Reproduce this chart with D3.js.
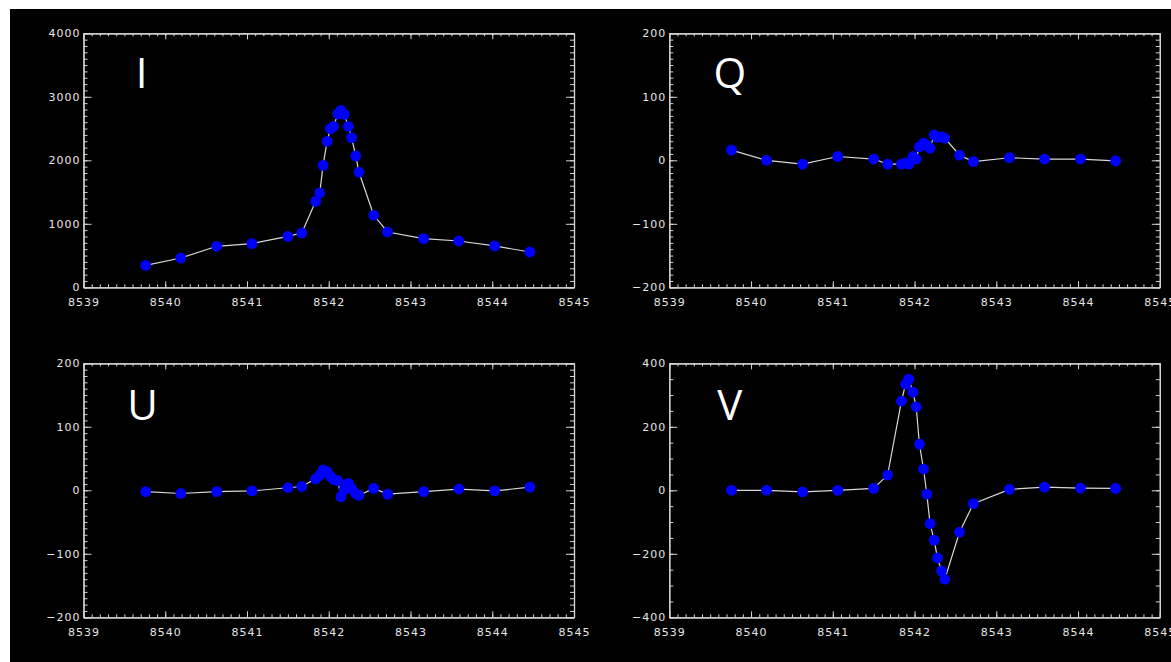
<!DOCTYPE html>
<html>
<head>
<meta charset="utf-8">
<script src="https://cdn.jsdelivr.net/npm/d3@7"></script>
<style>
  html, body { margin: 0; padding: 0; background: #fff; }
  svg { display: block; }
  .tick text { font-family: "DejaVu Sans", sans-serif; font-size: 11px; fill: #e6e6e6; letter-spacing: 1px; }
  .tick line, .domain { stroke: #d4d4d4; }
</style>
</head>
<body>
<script>
// wavelength samples (Angstrom), shared by the four Stokes panels
var wavelength = [8539.76, 8540.19, 8540.63, 8541.06, 8541.50, 8541.67,
  8541.84, 8541.89, 8541.93, 8541.98, 8542.02, 8542.06, 8542.11, 8542.15, 8542.19, 8542.24, 8542.28, 8542.33, 8542.37,
  8542.55, 8542.72, 8543.16, 8543.59, 8544.03, 8544.46];

var stokesI = [346, 461, 646, 688, 803, 855,
  1354, 1485, 1921, 2299, 2499, 2535, 2729, 2787, 2724, 2535, 2357, 2068, 1811,
  1134, 871, 767, 729, 651, 556];
var stokesQ = [16, 0, -6, 6, 2, -6,
  -6, -4, -6, 6, 2, 21, 27, 24, 19, 40, 36, 37, 35,
  8, -2, 4, 2, 2, -1];
var stokesU = [-2, -5, -2, -1, 4, 6,
  18, 24, 32, 29, 22, 17, 15, -10, 1, 11, 3, -5, -8,
  3, -6, -2, 2, -1, 5];
var stokesV = [0, 0, -5, 0, 6, 48,
  281, 334, 350, 309, 263, 145, 67, -12, -105, -157, -213, -254, -280,
  -132, -42, 3, 10, 7, 6];

var panelNames = ["I", "Q", "U", "V"];
var panelSeries = [stokesI, stokesQ, stokesU, stokesV];
var yDomains = [[0, 4000], [-200, 200], [-200, 200], [-400, 400]];
var yMajorTicks = [[0, 1000, 2000, 3000, 4000], [-200, -100, 0, 100, 200], [-200, -100, 0, 100, 200], [-400, -200, 0, 200, 400]];
var yMinorStep = [100, 10, 10, 50];
var xDomain = [8539, 8545];
var xMajorTicks = [8539, 8540, 8541, 8542, 8543, 8544, 8545];

var W = 1171, H = 662;
var pw = 490.5, ph = 254;
// panel top-left corners
var layout = [[83.5, 33.3], [669.3, 33.3], [83.5, 363.3], [669.3, 363.3]];
var nameOffset = [[58, 54.5], [60.5, 54.5], [59, 56.5], [60.5, 56.5]];

var svg = d3.select("body").append("svg")
  .attr("width", W).attr("height", H);

svg.append("rect").attr("x", 10).attr("y", 9)
  .attr("width", W - 10).attr("height", H - 9).attr("fill", "#000");

var fmt = function(d) { return d < 0 ? "\u2212" + Math.abs(d) : String(d); };

for (let p = 0; p < 4; p++) {
  let g = svg.append("g")
    .attr("transform", "translate(" + layout[p][0] + "," + layout[p][1] + ")");

  let x = d3.scaleLinear().domain(xDomain).range([0, pw]);
  let y = d3.scaleLinear().domain(yDomains[p]).range([ph, 0]);

  let xMinor = d3.range(xDomain[0], xDomain[1] + 0.0001, 0.1);
  let yMinor = d3.range(yDomains[p][0], yDomains[p][1] + 0.0001, yMinorStep[p]);

  // minor ticks, all four sides
  g.append("g").attr("transform", "translate(0," + ph + ")")
    .call(d3.axisBottom(x).tickValues(xMinor).tickSize(-3).tickSizeOuter(0).tickFormat(""));
  g.append("g")
    .call(d3.axisTop(x).tickValues(xMinor).tickSize(-3).tickSizeOuter(0).tickFormat(""));
  g.append("g")
    .call(d3.axisLeft(y).tickValues(yMinor).tickSize(-4).tickSizeOuter(0).tickFormat(""));
  g.append("g").attr("transform", "translate(" + pw + ",0)")
    .call(d3.axisRight(y).tickValues(yMinor).tickSize(-4).tickSizeOuter(0).tickFormat(""));

  // major ticks + labels
  g.append("g").attr("transform", "translate(0," + ph + ")")
    .call(d3.axisBottom(x).tickValues(xMajorTicks).tickSize(-6).tickSizeOuter(0).tickPadding(11).tickFormat(d3.format("d")));
  g.append("g")
    .call(d3.axisTop(x).tickValues(xMajorTicks).tickSize(-6).tickSizeOuter(0).tickFormat(""));
  g.append("g")
    .call(d3.axisLeft(y).tickValues(yMajorTicks[p]).tickSize(-8).tickSizeOuter(0).tickPadding(3).tickFormat(fmt));
  g.append("g").attr("transform", "translate(" + pw + ",0)")
    .call(d3.axisRight(y).tickValues(yMajorTicks[p]).tickSize(-8).tickSizeOuter(0).tickFormat(""));

  g.selectAll(".domain").attr("stroke-width", 1.2);

  let data = wavelength.map((w, i) => ({ w: w, v: panelSeries[p][i] }));

  let line = d3.line().x(d => x(d.w)).y(d => y(d.v));
  g.append("path").datum(data)
    .attr("d", line)
    .attr("fill", "none")
    .attr("stroke", "#d8d8d8")
    .attr("stroke-width", 1.2);

  g.selectAll("circle.pt").data(data).enter()
    .append("circle")
    .attr("class", "pt")
    .attr("cx", d => x(d.w))
    .attr("cy", d => y(d.v))
    .attr("r", 5.4)
    .attr("fill", "#0000ff");

  g.append("text")
    .text(panelNames[p])
    .attr("x", nameOffset[p][0])
    .attr("y", nameOffset[p][1])
    .attr("text-anchor", "middle")
    .attr("font-family", "'Open Sans', sans-serif")
    .attr("font-size", 42)
    .attr("fill", "#fff");
}
</script>
</body>
</html>
